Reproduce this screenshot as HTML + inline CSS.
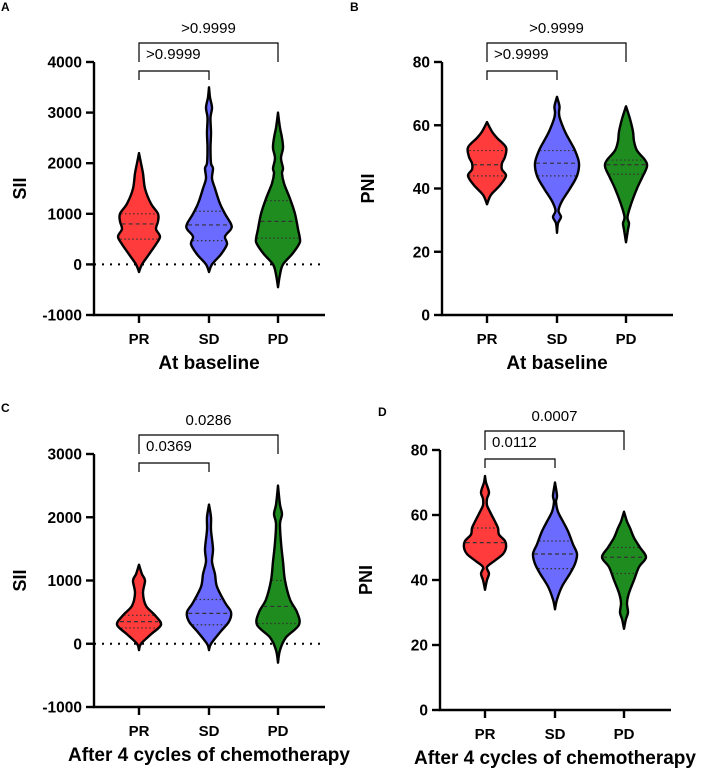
<!DOCTYPE html>
<html><head><meta charset="utf-8"><style>
body{margin:0;background:#fff}
svg{display:block;font-family:"Liberation Sans",Arial,sans-serif}
</style></head><body>
<svg id="fig" width="703" height="773" viewBox="0 0 703 773"></svg>
<script>
// ---- data ----
const categories = ["PR","SD","PD"];
const colors = ["#ff3b3b","#6b6bff","#1e8c1e"];
// Panel A (SII baseline)
const aPR_v=[-150,0,200,400,550,700,850,1000,1200,1500,1800,2000,2200];
const aPR_w=[0,3,10,17,21,17,19,19,12,6,4,2,0];
const aSD_v=[-150,0,200,400,550,700,800,1000,1200,1500,1700,1900,2000,2300,2600,2900,3100,3300,3500];
const aSD_w=[0,3,12,18,16,22,22,16,11,6,3,4,2,1.5,2,1.5,3,1,0];
const aPD_v=[-450,-200,0,200,400,500,700,1000,1300,1600,1800,1900,2100,2300,2500,2700,3000];
const aPD_w=[0,2,5,14,21,22,20,17,12,6,4,5,3,5,4,2,0];
const aQ=[[500,800,1000],[470,780,1050],[520,850,1260]];
// Panel B (PNI baseline)
const bPR_v=[35,38,41,44,46,48,50,53,56,58,61];
const bPR_w=[0,4,13,19,15,15,18,19,10,5,0];
const bSD_v=[26,29,31,33,36,40,44,48,52,55,58,62,64,66,69];
const bSD_w=[0,1,4,1.5,5,13,20,22,18,13,8,3,2,2.5,0];
const bPD_v=[23,27,29,31,35,40,44,47,49,52,55,58,62,66];
const bPD_w=[0,2,3,1.5,5,11,17,21,19,11,8,7,4,0];
const bQ=[[44,47.5,52],[44,48,52],[44.5,47.5,49]];
// Panel C (SII after 4 cycles)
const cPR_v=[-100,0,150,300,450,600,800,1000,1100,1250];
const cPR_w=[0,2,12,22,16,7,4,6,3,0];
const cSD_v=[-100,0,200,350,500,650,900,1100,1300,1500,1800,2000,2200];
const cSD_w=[0,2,12,20,22,16,8,6,3,4,2,2,0];
const cPD_v=[-300,-100,100,300,500,700,1000,1300,1600,1900,2050,2200,2500];
const cPD_w=[0,2,8,21,19,12,7,5,3,2,4,2,0];
const cQ=[[250,350,450],[300,480,700],[320,590,1000]];
// Panel D (PNI after 4 cycles)
const dPR_v=[37,40,42,44,46,48,50,52,54,56,58,61,63,65,67,70,72];
const dPR_w=[0,2,4,2,10,18,21,20,14,13,10,5,2,2,4,1,0];
const dSD_v=[31,34,38,42,45,48,51,55,58,61,64,66,70];
const dSD_w=[0,2,7,15,20,22,18,13,8,3,1,2,0];
const dPD_v=[25,28,30,33,36,40,44,47,50,53,56,58,61];
const dPD_w=[0,2,4,3,5,10,15,22,16,10,6,3,0];
const dQ=[[43.5,51.5,56],[43.5,48,52],[42,47,50]];
const ticksSII_A=[-1000,0,1000,2000,3000,4000];
const ticksSII_C=[-1000,0,1000,2000,3000];
const ticksPNI=[0,20,40,60,80];
const pA=["Significance",">0.9999",">0.9999"];
const pB=["Significance",">0.9999",">0.9999"];
const pC=["Significance","0.0369","0.0286"];
const pD=["Significance","0.0112","0.0007"];

const NS="http://www.w3.org/2000/svg";
const svg=document.getElementById('fig');
function mk(tag,attrs,parent){const e=document.createElementNS(NS,tag);for(const k in attrs)e.setAttribute(k,attrs[k]);(parent||svg).appendChild(e);return e;}
function smooth(pts){let d="M"+pts[0][0]+","+pts[0][1];for(let i=0;i<pts.length-1;i++){const p0=pts[i-1]||pts[i],p1=pts[i],p2=pts[i+1],p3=pts[i+2]||p2;const c1=[p1[0]+(p2[0]-p0[0])/6,p1[1]+(p2[1]-p0[1])/6],c2=[p2[0]-(p3[0]-p1[0])/6,p2[1]-(p3[1]-p1[1])/6];d+=`C${c1[0].toFixed(1)},${c1[1].toFixed(1)} ${c2[0].toFixed(1)},${c2[1].toFixed(1)} ${p2[0].toFixed(1)},${p2[1].toFixed(1)}`;}return d;}
function interpW(vs,ws,v){for(let i=0;i<vs.length-1;i++){if(v>=vs[i]&&v<=vs[i+1]){const t=(v-vs[i])/(vs[i+1]-vs[i]);return ws[i]+t*(ws[i+1]-ws[i]);}}return 0;}

function panel(o){
  const g=mk('g',{},svg);
  
  
  const y=v=>o.y0+(v-o.ymin)/(o.ymax-o.ymin)*(o.y1-o.y0);
  const xs=[o.ax+45,o.ax+115,o.ax+184];
  const lab=mk('text',{x:o.lx,y:o.ly,'font-size':12,'font-weight':'bold'},g);lab.textContent=o.letter;
  
  if(o.zero){const z=mk('line',{x1:o.ax,x2:o.ax+231,y1:y(0),y2:y(0),stroke:'#000','stroke-width':2,'stroke-dasharray':'2,6'},g);
    }
  o.violins.forEach((vw,i)=>{
    const [vs,ws]=vw;const L=[],R=[];
    for(let k=0;k<vs.length;k++){R.push([xs[i]+ws[k],y(vs[k])]);}
    for(let k=vs.length-1;k>=0;k--){L.push([xs[i]-ws[k],y(vs[k])]);}
    const d=smooth(R)+" "+smooth(L).replace(/^M/,"L")+"Z";
    const p=mk('path',{d:d,fill:colors[i],stroke:'#000','stroke-width':2.4,'stroke-linejoin':'round'},g);
    
    
    o.q[i].forEach((qv,j)=>{const w=interpW(vs,ws,qv)-1;
      const l=mk('line',{x1:xs[i]-w,x2:xs[i]+w,y1:y(qv),y2:y(qv),stroke:'#333','stroke-width':1.2,'stroke-dasharray':j==1?'4,3':'1.5,2.5'},g);
      });
  });
  const ax=mk('path',{d:'',fill:'none',stroke:'#000','stroke-width':2.4},g);
  ax.setAttribute('d',`M${o.ax},${y(o.ticks[o.ticks.length-1])}V${o.y0}H${o.ax+231}`);
  
  o.ticks.forEach(t=>{mk('line',{x1:o.ax-8,x2:o.ax,y1:y(t),y2:y(t),stroke:'#000','stroke-width':2.4},g);
    const tx=mk('text',{x:o.ax-12,y:y(t)+5.5,'font-size':15.5,'font-weight':'bold','text-anchor':'end'},g);tx.textContent=t;
    });
  categories.forEach((c,i)=>{mk('line',{x1:xs[i],x2:xs[i],y1:o.y0,y2:o.y0+8,stroke:'#000','stroke-width':2.4},g);
    const tx=mk('text',{x:xs[i],y:o.y0+29,'font-size':15,'font-weight':'bold','text-anchor':'middle'},g);tx.textContent=c;
    });
  const yt=mk('text',{transform:`translate(${o.ax-68},${(o.y0+y(o.ticks[o.ticks.length-1]))/2}) rotate(-90)`,'font-size':18,'font-weight':'bold','text-anchor':'middle'},g);
  yt.textContent=o.ytitle;
  const xt=mk('text',{x:o.ax+115,y:o.y0+54,'font-size':19,'font-weight':'bold','text-anchor':'middle'},g);
  xt.textContent=o.xtitle;
  const top=y(o.ticks[o.ticks.length-1]);
  const b1=mk('path',{d:`M${xs[0]},${top+18}V${top+9}H${xs[1]}V${top+18}`,fill:'none',stroke:'#000','stroke-width':1.2},g);
  
  const t1=mk('text',{x:xs[0]+7,y:top-3,'font-size':15},g);t1.textContent=o.p[1];
  
  const b2=mk('path',{d:`M${xs[0]},${top}V${top-19}H${xs[2]}V${top}`,fill:'none',stroke:'#000','stroke-width':1.2},g);
  
  const t2=mk('text',{x:(xs[0]+xs[2])/2,y:top-29,'font-size':15,'text-anchor':'middle'},g);t2.textContent=o.p[2];
  
}
panel({name:'panel-a',letter:'A',lx:1,ly:11,ax:94,y0:315,y1:62,ymin:-1000,ymax:4000,ticks:ticksSII_A,zero:true,ytitle:'SII',xtitle:'At baseline',
  violins:[[aPR_v,aPR_w],[aSD_v,aSD_w],[aPD_v,aPD_w]],q:aQ,p:pA});
panel({name:'panel-b',letter:'B',lx:350,ly:11,ax:442,y0:315,y1:62,ymin:0,ymax:80,ticks:ticksPNI,zero:false,ytitle:'PNI',xtitle:'At baseline',
  violins:[[bPR_v,bPR_w],[bSD_v,bSD_w],[bPD_v,bPD_w]],q:bQ,p:pB});
panel({name:'panel-c',letter:'C',lx:1,ly:412,ax:94,y0:707,y1:454,ymin:-1000,ymax:3000,ticks:ticksSII_C,zero:true,ytitle:'SII',xtitle:'After 4 cycles of chemotherapy',
  violins:[[cPR_v,cPR_w],[cSD_v,cSD_w],[cPD_v,cPD_w]],q:cQ,p:pC});
panel({name:'panel-d',letter:'D',lx:378,ly:416,ax:440,y0:710,y1:450,ymin:0,ymax:80,ticks:ticksPNI,zero:false,ytitle:'PNI',xtitle:'After 4 cycles of chemotherapy',
  violins:[[dPR_v,dPR_w],[dSD_v,dSD_w],[dPD_v,dPD_w]],q:dQ,p:pD});
</script>
</body></html>
